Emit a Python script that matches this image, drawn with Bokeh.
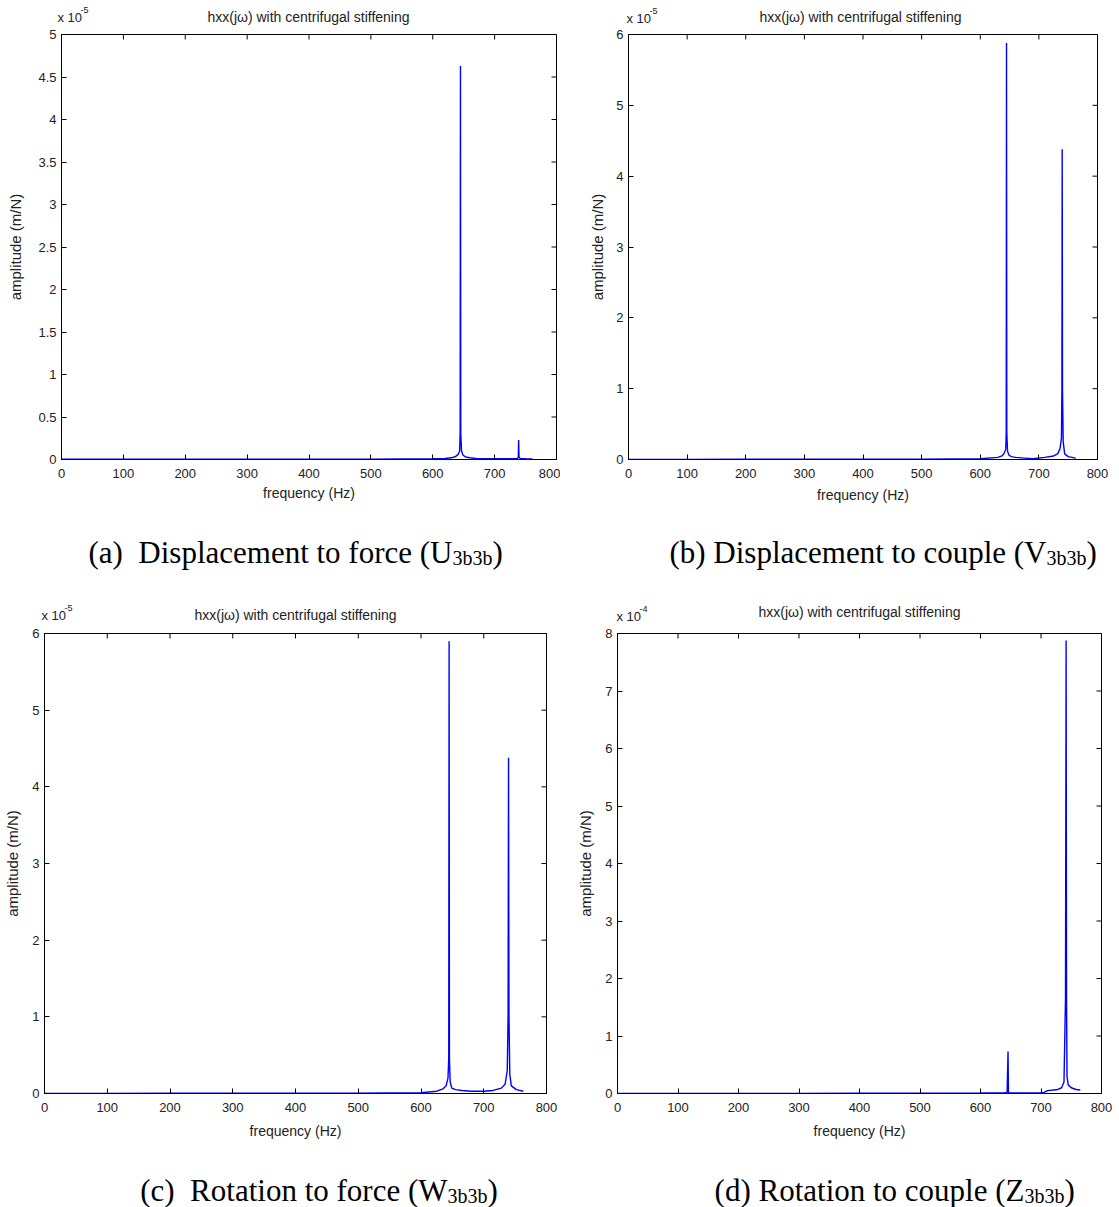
from bokeh.plotting import figure
from bokeh.models import Range1d, FixedTicker, CustomJSTickFormatter
from bokeh.core.properties import value
from bokeh.layouts import column, row
from bokeh.embed import file_html
from bokeh.resources import INLINE

# ---------------- data ----------------
x_ticks = [0, 100, 200, 300, 400, 500, 600, 700, 800]

# (a) Displacement to force, amplitude in units of 1e-5 m/N
freq_a = [0, 100, 200, 300, 400, 500, 600, 620, 630, 637, 641, 643.5, 644.3, 644.8, 645.3,
          646.5, 649, 653, 660, 670, 700, 730, 737, 738.3, 738.8, 739.4, 741, 750, 761]
amp_a = [0.003, 0.003, 0.003, 0.004, 0.004, 0.005, 0.008, 0.012, 0.02, 0.035, 0.06, 0.1, 0.32, 4.63, 0.3,
         0.1, 0.05, 0.03, 0.02, 0.012, 0.008, 0.008, 0.012, 0.03, 0.23, 0.03, 0.012, 0.008, 0.006]
yticks_a = [0, 0.5, 1, 1.5, 2, 2.5, 3, 3.5, 4, 4.5, 5]

# (b) Displacement to couple, units of 1e-5 m/N
freq_b = [0, 100, 200, 300, 400, 500, 600, 630, 637, 641, 643.5, 644.3, 644.8, 645.3, 646.5,
          649, 653, 660, 675, 690, 710, 725, 732, 736, 738.5, 739.3, 739.8, 740.3, 741.5,
          744, 750, 763]
amp_b = [0.002, 0.002, 0.003, 0.003, 0.004, 0.005, 0.01, 0.03, 0.05, 0.09, 0.15, 0.38, 5.88, 0.38, 0.12,
         0.06, 0.04, 0.03, 0.02, 0.01, 0.03, 0.05, 0.08, 0.15, 0.3, 0.98, 4.38, 0.98, 0.25,
         0.08, 0.04, 0.02]
yticks_b = [0, 1, 2, 3, 4, 5, 6]

# (c) Rotation to force, units of 1e-5
freq_c = [0, 100, 200, 300, 400, 500, 600, 625, 635, 640, 643, 644.2, 644.8, 645.3, 646.5,
          649, 655, 665, 680, 700, 715, 728, 734, 737.5, 738.8, 739.5, 740.2, 741.5,
          744, 752, 763]
amp_c = [0.002, 0.002, 0.003, 0.003, 0.004, 0.005, 0.01, 0.03, 0.06, 0.1, 0.2, 0.45, 5.9, 0.45, 0.15,
         0.07, 0.05, 0.04, 0.03, 0.03, 0.04, 0.07, 0.12, 0.3, 1.02, 4.38, 1.02, 0.25,
         0.1, 0.05, 0.03]
yticks_c = [0, 1, 2, 3, 4, 5, 6]

# (d) Rotation to couple, units of 1e-4
freq_d = [0, 100, 200, 300, 400, 500, 600, 640, 644, 645.5, 646.2, 647, 650, 680, 700, 705,
          711, 720, 728, 734, 738, 740.5, 741.5, 742.2, 743, 745, 750, 758, 765]
amp_d = [0.002, 0.002, 0.003, 0.003, 0.004, 0.005, 0.008, 0.012, 0.02, 0.73, 0.02, 0.012, 0.01, 0.01, 0.012, 0.02,
         0.05, 0.06, 0.07, 0.1, 0.2, 1.66, 7.88, 1.66, 0.3, 0.15, 0.1, 0.07, 0.06]
yticks_d = [0, 1, 2, 3, 4, 5, 6, 7, 8]

title_text = "hxx(j\u03c9) with centrifugal stiffening"
ylabel_text = "amplitude (m/N)"
xlabel_text = "frequency (Hz)"

captions = [
    ("(a)\u00a0 Displacement to force (U", "3b3b", ")"),
    ("(b) Displacement to couple (V", "3b3b", ")"),
    ("(c)\u00a0 Rotation to force (W", "3b3b", ")"),
    ("(d) Rotation to couple (Z", "3b3b", ")"),
]
exponents = ["-5", "-5", "-5", "-4"]

SANS = "Liberation Sans"
SERIF = "Liberation Serif"
TXT = "#222222"


def blank_fig(W, H):
    f = figure(width=W, height=H, output_backend="svg", toolbar_location=None,
               x_range=Range1d(0, W), y_range=Range1d(0, H),
               min_border=0, min_border_left=0, min_border_right=0,
               min_border_top=0, min_border_bottom=0)
    f.axis.visible = False
    f.grid.visible = False
    f.outline_line_color = None
    f.background_fill_color = "white"
    f.border_fill_color = "white"
    return f


def make_header(W, H, cfg, exponent):
    f = blank_fig(W, H)
    f.text(x=[cfg["tx"]], y=[H - cfg["ty"]], text=[title_text], text_align="center",
           text_baseline="middle", text_font=value(SANS), text_font_size=value("14px"),
           text_color=TXT)
    f.text(x=[cfg["ex"]], y=[H - cfg["ey"]], text=["x 10"], text_align="left",
           text_baseline="middle", text_font=value(SANS), text_font_size=value("13px"),
           text_color=TXT)
    f.text(x=[cfg["ex"] + 23], y=[H - cfg["ey"] + 8], text=[exponent], text_align="left",
           text_baseline="middle", text_font=value(SANS), text_font_size=value("9px"),
           text_color=TXT)
    return f


def make_caption(W, H, cfg, caption):
    f = blank_fig(W, H)
    main, sub, close = caption
    y = H - cfg["cy"]
    f.text(x=[cfg["cs"]], y=[y], text=[main], text_align="right", text_baseline="middle",
           text_font=value(SERIF), text_font_size=value("31px"), text_color="black")
    f.text(x=[cfg["cs"]], y=[y - 5], text=[sub], text_align="left", text_baseline="middle",
           text_font=value(SERIF), text_font_size=value("20px"), text_color="black")
    f.text(x=[cfg["cs"] + 40], y=[y], text=[close], text_align="left", text_baseline="middle",
           text_font=value(SERIF), text_font_size=value("31px"), text_color="black")
    return f


def make_panel(freq, amp, ymax, yticks, cfg):
    W, H = cfg["W"], cfg["H"]
    p = figure(width=W, height=H, output_backend="svg", toolbar_location=None,
               x_range=Range1d(0, 800), y_range=Range1d(0, ymax),
               min_border_left=cfg["l"], min_border_right=cfg["r"],
               min_border_top=cfg["t"], min_border_bottom=cfg["b"],
               x_axis_label=xlabel_text, y_axis_label=ylabel_text)
    p.background_fill_color = "white"
    p.border_fill_color = "white"
    p.outline_line_color = "black"
    p.outline_line_width = 1
    p.xgrid.visible = False
    p.ygrid.visible = False

    fmt = CustomJSTickFormatter(code="return String(Math.round(tick*100)/100);")
    for ax, ticks, std, lstd, lsize in ((p.xaxis[0], x_ticks, 9, cfg["xls"], "14px"),
                                        (p.yaxis[0], yticks, 5, cfg["yls"], "15px")):
        ax.ticker = FixedTicker(ticks=ticks)
        ax.formatter = fmt
        ax.major_tick_in = 5
        ax.major_tick_out = 0
        ax.minor_tick_line_color = None
        ax.major_label_standoff = std
        ax.axis_label_standoff = lstd
        ax.major_label_text_font = SANS
        ax.major_label_text_font_size = "13px"
        ax.major_label_text_color = TXT
        ax.axis_label_text_font = SANS
        ax.axis_label_text_font_size = lsize
        ax.axis_label_text_font_style = "normal"
        ax.axis_label_text_color = TXT

    # MATLAB-style box ticks on top and right edges, pointing inward (5 px)
    fw = W - cfg["l"] - cfg["r"]
    fh = H - cfg["t"] - cfg["b"]
    dy = 5.0 / fh * ymax
    dx = 5.0 / fw * 800
    p.segment(x0=x_ticks, x1=x_ticks, y0=[ymax] * len(x_ticks), y1=[ymax - dy] * len(x_ticks),
              line_color="black", line_width=1)
    p.segment(x0=[800] * len(yticks), x1=[800 - dx] * len(yticks), y0=yticks, y1=yticks,
              line_color="black", line_width=1)

    p.line(freq, amp, line_color="#0000ff", line_width=1.4)
    return p


# layout rows: header / panel / caption
HA, PA, CA = 25, 485, 80
HC, PC, CC = 34, 526, 57

cfg_a = dict(W=560, H=PA, l=61, r=4, t=8, b=51, xls=4, yls=11,
             tx=308, ty=16, ex=57, ey=17, cy=42, cs=452)
cfg_b = dict(W=559, H=PA, l=68, r=22, t=9, b=49, xls=6, yls=7,
             tx=300, ty=16, ex=66, ey=18, cy=42, cs=486)
cfg_c = dict(W=560, H=PC, l=44, r=14, t=9, b=54, xls=8, yls=8,
             tx=295, ty=24, ex=41, ey=25, cy=40, cs=447)
cfg_d = dict(W=559, H=PC, l=57, r=18, t=7, b=57, xls=8, yls=8,
             tx=299, ty=21, ex=56, ey=26, cy=40, cs=464)

pa = make_panel(freq_a, amp_a, 5, yticks_a, cfg_a)
pb = make_panel(freq_b, amp_b, 6, yticks_b, cfg_b)
pc = make_panel(freq_c, amp_c, 6, yticks_c, cfg_c)
pd = make_panel(freq_d, amp_d, 8, yticks_d, cfg_d)

ha = make_header(560, HA, cfg_a, exponents[0])
hb = make_header(559, HA, cfg_b, exponents[1])
hc = make_header(560, HC, cfg_c, exponents[2])
hd = make_header(559, HC, cfg_d, exponents[3])

ca = make_caption(560, CA, cfg_a, captions[0])
cb = make_caption(559, CA, cfg_b, captions[1])
cc = make_caption(560, CC, cfg_c, captions[2])
cd = make_caption(559, CC, cfg_d, captions[3])

layout = column(
    row(ha, hb, spacing=0),
    row(pa, pb, spacing=0),
    row(ca, cb, spacing=0),
    row(hc, hd, spacing=0),
    row(pc, pd, spacing=0),
    row(cc, cd, spacing=0),
    spacing=0,
)

open("out.html", "w").write(file_html(layout, INLINE))
